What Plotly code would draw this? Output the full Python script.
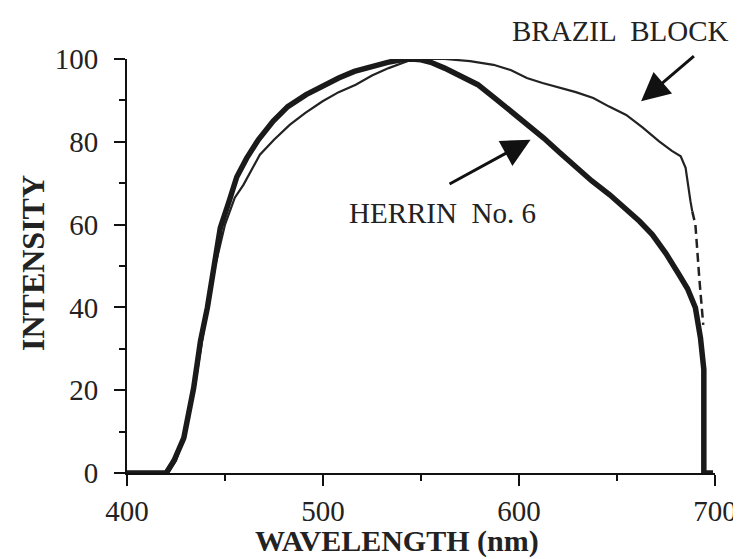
import plotly.graph_objects as go

# Herrin No. 6 (thick trace)
herrin_x = [400, 420, 424, 429, 434, 437.5, 441, 444.3, 447.6, 452, 456, 461, 467, 474.6, 482,
            491.4, 500, 508, 516, 525, 533, 540, 545, 550, 555, 562, 570, 579, 587, 595.8, 604,
            612.6, 621, 629.4, 637, 646.3, 654, 661.5, 668, 675, 681.7, 686, 690, 692.6,
            694.3, 694.3, 699]
herrin_y = [0, 0, 3, 8.5, 20.5, 31.9, 39.9, 50.3, 59.2, 65.5, 71.5, 76, 80.5, 85, 88.5,
            91.4, 93.5, 95.4, 97, 98.2, 99.2, 99.8, 100, 99.8, 99.2, 97.8, 96, 93.8, 90.8, 87.4, 84.3,
            80.9, 77.3, 73.7, 70.6, 67.2, 64, 60.8, 57.6, 53, 47.9, 44.5, 39.9, 32.6,
            25, 0, 0]

# Brazil Block (thin trace)
brazil_x = [400, 421, 425, 430, 435, 440, 445, 450, 455, 459.4, 467.8, 475, 483, 491, 499.8,
            508, 516.7, 525, 533.5, 540, 545, 553, 562, 575, 587, 596, 604, 612, 621, 629,
            637.9, 646, 654.7, 663, 671.5, 678, 682.5, 685, 687.5, 688.4]
brazil_y = [0, 0, 3, 10, 22, 37, 50, 60, 66.5, 69.6, 76.9, 80.5, 84.1, 87, 89.8,
            92, 93.8, 96, 97.8, 99, 99.8, 100, 100, 99.5, 98.6, 97.3, 95.4, 94.2, 93, 92,
            90.6, 88.5, 86.5, 83.5, 80.1, 77.8, 76.5, 73.7, 65.6, 63.2]
# dashed tail of Brazil Block
brazil_dash_x = [688.4, 690, 692, 694]
brazil_dash_y = [63.2, 60, 47, 35.8]

x_ticks = [400, 500, 600, 700]
y_ticks = [0, 20, 40, 60, 80, 100]

FONT = "Liberation Serif"

fig = go.Figure()
fig.add_trace(go.Scatter(x=brazil_x, y=brazil_y, mode="lines",
                         line=dict(color="#222", width=2.2), showlegend=False))
fig.add_trace(go.Scatter(x=brazil_dash_x, y=brazil_dash_y, mode="lines",
                         line=dict(color="#222", width=2.5, dash="9px,5px"), showlegend=False))
fig.add_trace(go.Scatter(x=herrin_x, y=herrin_y, mode="lines",
                         line=dict(color="#1a1a1a", width=5.5), showlegend=False))

axis_common = dict(
    showgrid=False, zeroline=False, showline=True, linecolor="#111", linewidth=2,
    ticks="outside", ticklen=11, tickwidth=2, tickcolor="#111",
    tickfont=dict(family=FONT, size=29, color="#222"),
)
fig.update_xaxes(range=[400, 700], tickvals=x_ticks, ticklabelstandoff=0,
                 minor=dict(dtick=50, ticks="outside", ticklen=6, tickwidth=2, tickcolor="#111"),
                 **axis_common)
fig.update_yaxes(range=[0, 100], tickvals=y_ticks, ticklabelstandoff=10,
                 minor=dict(dtick=10, ticks="outside", ticklen=6, tickwidth=2, tickcolor="#111"),
                 **axis_common)

annotations = [
    dict(text="<b>WAVELENGTH (nm)</b>", x=537.9, xref="x", y=-0.164, yref="paper",
         showarrow=False, font=dict(family=FONT, size=30, color="#222"),
         xanchor="center", yanchor="middle"),
    dict(text="<b>INTENSITY</b>", x=-0.16, xref="paper", y=50.7, yref="y",
         showarrow=False, textangle=-90, font=dict(family=FONT, size=32, color="#222"),
         xanchor="center", yanchor="middle"),
    dict(text="BRAZIL  BLOCK", x=0.838, y=1.068, xref="paper", yref="paper", showarrow=False,
         font=dict(family=FONT, size=29, color="#222"), xanchor="center", yanchor="middle"),
    dict(text="HERRIN  No. 6", x=560.9, y=62.8, xref="x", yref="y", showarrow=False,
         font=dict(family=FONT, size=29, color="#222"), xanchor="center", yanchor="middle"),
    dict(text="", x=605.9, y=80.5, xref="x", yref="y", ax=563.8, ay=69.6,
         axref="x", ayref="y", showarrow=True, arrowhead=2, arrowsize=1.9,
         arrowwidth=3, arrowcolor="#111"),
    dict(text="", x=662.3, y=89.8, xref="x", yref="y", ax=690, ay=101.0,
         axref="x", ayref="y", showarrow=True, arrowhead=2, arrowsize=1.9,
         arrowwidth=3, arrowcolor="#111"),
]

fig.update_layout(
    width=741, height=559,
    margin=dict(l=119, r=28, t=51, b=94),
    paper_bgcolor="white", plot_bgcolor="white",
    font=dict(family=FONT, color="#222"),
    annotations=annotations,
    showlegend=False,
)

fig.write_html("out.html")
